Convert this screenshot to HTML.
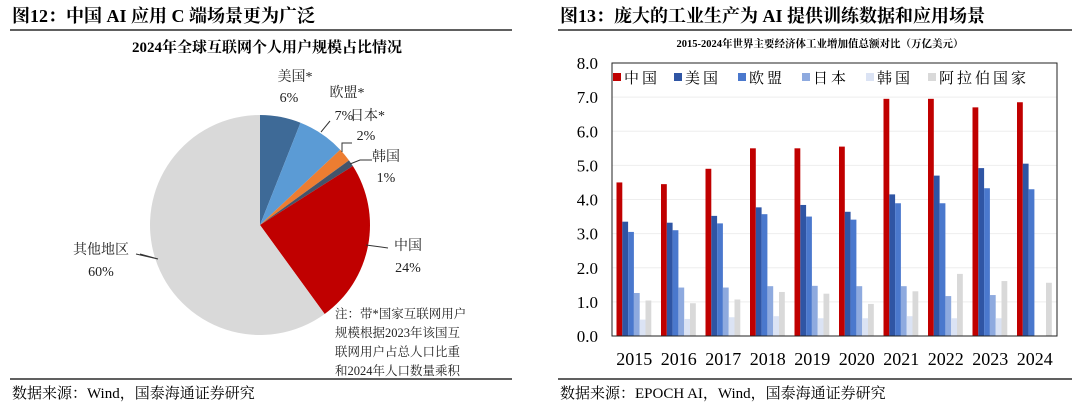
<!DOCTYPE html>
<html><head><meta charset="utf-8"><style>
body{margin:0;width:1080px;height:406px;background:#fff;overflow:hidden;font-family:"Liberation Serif","Noto Serif CJK SC",serif;}
</style></head><body>
<svg width="1080" height="406" xmlns="http://www.w3.org/2000/svg">
<g font-family="Liberation Serif, Noto Serif CJK SC, serif">
<text x="12" y="22" font-size="18" font-weight="bold">图12：中国 AI 应用 C 端场景更为广泛</text>
<line x1="10" y1="30" x2="512" y2="30" stroke="#000" stroke-width="1.2"/>
<text x="267" y="52" font-size="15" font-weight="bold" text-anchor="middle">2024年全球互联网个人用户规模占比情况</text>
<g id="pie"></g>
<g font-size="14" fill="#222">
<text x="295" y="81" text-anchor="middle">美国*</text><text x="289" y="102" text-anchor="middle">6%</text>
<text x="347" y="97" text-anchor="middle">欧盟*</text><text x="344" y="120" text-anchor="middle">7%</text>
<text x="350" y="120">日本*</text><text x="366" y="140" text-anchor="middle">2%</text>
<text x="386" y="161" text-anchor="middle">韩国</text><text x="386" y="182" text-anchor="middle">1%</text>
<text x="408" y="250" text-anchor="middle">中国</text><text x="408" y="272" text-anchor="middle">24%</text>
<text x="101" y="254" text-anchor="middle">其他地区</text><text x="101" y="276" text-anchor="middle">60%</text>
<path d="M321,132 L330,121 M342,152 L342,143 L352,143 M350,164 L360,160 L372,160 M366,245 L388,248 M158,259 L140,254 M158,259 L136,254" stroke="#333" fill="none" stroke-width="1"/>
</g>
<g font-size="12.5" fill="#222">
<text x="335" y="318">注：带*国家互联网用户</text>
<text x="335" y="337">规模根据2023年该国互</text>
<text x="335" y="356">联网用户占总人口比重</text>
<text x="335" y="375">和2024年人口数量乘积</text>
</g>
<line x1="10" y1="379" x2="512" y2="379" stroke="#000" stroke-width="1.2"/>
<text x="12" y="398" font-size="15">数据来源：Wind，国泰海通证券研究</text>
</g>
<g font-family="Liberation Serif, Noto Serif CJK SC, serif">
<text x="560" y="22" font-size="18" font-weight="bold">图13：庞大的工业生产为 AI 提供训练数据和应用场景</text>
<line x1="558" y1="30" x2="1072" y2="30" stroke="#000" stroke-width="1.2"/>
<text x="820" y="47" font-size="10.5" font-weight="bold" text-anchor="middle">2015-2024年世界主要经济体工业增加值总额对比（万亿美元）</text>
<g id="bars"></g>
<line x1="558" y1="379" x2="1072" y2="379" stroke="#000" stroke-width="1.2"/>
<text x="560" y="398" font-size="15">数据来源：EPOCH AI，Wind，国泰海通证券研究</text>
</g>
</svg>
<script>
const pieLabels=["美国","欧盟","日本","韩国","中国","其他地区"];
const pieValues=[6,7,2,1,24,60];
const pieColors=["#3e6a97","#5b9bd5","#ed7d31","#44546a","#c00000","#d9d9d9"];
const years=["2015","2016","2017","2018","2019","2020","2021","2022","2023","2024"];
const seriesNames=["中国","美国","欧盟","日本","韩国","阿拉伯国家"];
const china=[4.5,4.45,4.9,5.5,5.5,5.55,6.95,6.95,6.7,6.85];
const usa=[3.35,3.32,3.52,3.77,3.84,3.64,4.15,4.7,4.92,5.05];
const eu=[3.05,3.1,3.3,3.57,3.5,3.41,3.89,3.89,4.33,4.3];
const japan=[1.26,1.42,1.42,1.46,1.47,1.46,1.46,1.17,1.2,0];
const korea=[0.48,0.5,0.55,0.58,0.52,0.52,0.58,0.52,0.52,0];
const arab=[1.04,0.96,1.07,1.29,1.24,0.94,1.31,1.82,1.61,1.56];
const yTicks=["0.0","1.0","2.0","3.0","4.0","5.0","6.0","7.0","8.0"];
const NS="http://www.w3.org/2000/svg";
function mk(t,a,p){const e=document.createElementNS(NS,t);for(const k in a)e.setAttribute(k,a[k]);p.appendChild(e);return e;}
const pie=document.getElementById('pie');
const cx=260,cy=225,r=110;
const tot=pieValues.reduce((a,b)=>a+b,0);
let ang=0;
pieValues.forEach((v,i)=>{
 const a0=ang, a1=ang+v/tot*2*Math.PI; ang=a1;
 const x0=cx+r*Math.sin(a0),y0=cy-r*Math.cos(a0),x1=cx+r*Math.sin(a1),y1=cy-r*Math.cos(a1);
 const large=(a1-a0)>Math.PI?1:0;
 const p=mk('path',{d:`M${cx},${cy} L${x0},${y0} A${r},${r} 0 ${large} 1 ${x1},${y1} Z`,fill:pieColors[i]},pie);
 
 
});
const g=document.getElementById('bars');
const L=612,R=1057,T=63,B=336,ymax=8;
const y=v=>B-(v/ymax)*(B-T);
yTicks.forEach(t=>{
 const v=parseFloat(t);
 if(v>0) mk('line',{x1:L,x2:R,y1:y(v),y2:y(v),stroke:'#eee'},g);
 const tx=mk('text',{x:598,y:y(v)+6,'font-size':17,'text-anchor':'end'},g);tx.textContent=t;
 
 
});
const gw=(R-L)/years.length, bw=5.8;
const cols=["#c00000","#2f55a4","#4a78cd","#8eaadf","#dbe3f4","#d9d9d9"];
const series=[china,usa,eu,japan,korea,arab];
years.forEach((yr,i)=>{
 const gx=L+i*gw+4.5;
 series.forEach((s,j)=>{
  if(s[i]<=0) return;
  const rc=mk('rect',{x:gx+j*bw,y:y(s[i]),width:bw,height:B-y(s[i]),fill:cols[j]},g);
  
  
 });
 const tx=mk('text',{x:L+(i+0.5)*gw,y:365,'font-size':18,'text-anchor':'middle'},g);tx.textContent=yr;
 
 
});
mk('rect',{x:L,y:T,width:R-L,height:B-T,fill:'none',stroke:'#222','stroke-width':1},g);
const lx=[613,674,738,802,866,928];
seriesNames.forEach((n,j)=>{
 const rc=mk('rect',{x:lx[j],y:73,width:8,height:8,fill:cols[j]},g);
 
 
 const t=mk('text',{x:lx[j]+11,y:83,'font-size':15,'letter-spacing':3},g);t.textContent=n;
 
 
});
</script>
</body></html>
